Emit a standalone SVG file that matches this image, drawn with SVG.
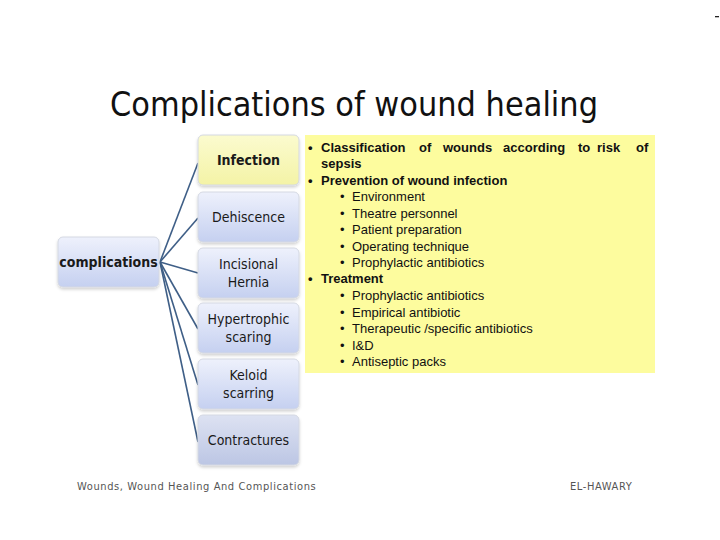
<svg xmlns="http://www.w3.org/2000/svg" width="720" height="540" viewBox="0 0 720 540">
<defs>
<linearGradient id="blue" x1="0" y1="0" x2="0" y2="1">
<stop offset="0" stop-color="#eef1fc"/>
<stop offset="1" stop-color="#c5d0f0"/>
</linearGradient>
<linearGradient id="blue2" x1="0" y1="0" x2="0" y2="1">
<stop offset="0" stop-color="#dde2f2"/>
<stop offset="1" stop-color="#bcc6e4"/>
</linearGradient>
<linearGradient id="yel" x1="0" y1="0" x2="0" y2="1">
<stop offset="0" stop-color="#fbfbcf"/>
<stop offset="1" stop-color="#f4f3a6"/>
</linearGradient>
<filter id="sh" x="-10%" y="-10%" width="130%" height="140%">
<feDropShadow dx="0" dy="2" stdDeviation="1.5" flood-color="#000" flood-opacity="0.18"/>
</filter>
</defs>
<style>
.node rect{stroke:#d4d8e2;stroke-width:1;filter:url(#sh)}
.nt{font-family:"DejaVu Sans Condensed","DejaVu Sans",sans-serif;font-size:14px;fill:#1a1a1a;text-anchor:middle}
.b{font-weight:bold}
.conn line{stroke:#3f5f87;stroke-width:1.6}
.bt{font-family:"Liberation Sans",Arial,sans-serif;font-size:13px;fill:#111}
.ft{font-family:"DejaVu Sans Condensed","DejaVu Sans",sans-serif;font-size:11px;fill:#555;letter-spacing:0.6px}
</style>
<rect width="720" height="540" fill="#fff"/>
<rect x="715" y="16" width="4" height="1.3" fill="#222"/>
<text x="354" y="116" font-family="'DejaVu Sans Condensed','DejaVu Sans',sans-serif" font-size="33" fill="#111" text-anchor="middle" textLength="488" lengthAdjust="spacingAndGlyphs">Complications of wound healing</text>

<g id="infobox">
<rect x="305" y="135" width="350" height="238" fill="#fdfc9e"/>
<g class="bt">
<text x="308" y="152" font-weight="bold">•</text>
<g font-weight="bold">
<text x="321" y="152">Classification</text>
<text x="419" y="152">of</text>
<text x="443" y="152">wounds</text>
<text x="503" y="152">according</text>
<text x="578" y="152">to</text>
<text x="597" y="152">risk</text>
<text x="636" y="152">of</text>
</g>
<text x="321" y="168" font-weight="bold">sepsis</text>
<text x="308" y="185" font-weight="bold">•</text>
<text x="321" y="185" font-weight="bold">Prevention of wound infection</text>
<text x="340" y="201">•</text><text x="352" y="201">Environment</text>
<text x="340" y="217.5">•</text><text x="352" y="217.5">Theatre personnel</text>
<text x="340" y="234">•</text><text x="352" y="234">Patient preparation</text>
<text x="340" y="250.5">•</text><text x="352" y="250.5">Operating technique</text>
<text x="340" y="267">•</text><text x="352" y="267">Prophylactic antibiotics</text>
<text x="308" y="283" font-weight="bold">•</text>
<text x="321" y="283" font-weight="bold">Treatment</text>
<text x="340" y="300">•</text><text x="352" y="300">Prophylactic antibiotics</text>
<text x="340" y="316.5">•</text><text x="352" y="316.5">Empirical antibiotic</text>
<text x="340" y="333">•</text><text x="352" y="333">Therapeutic /specific antibiotics</text>
<text x="340" y="349.5">•</text><text x="352" y="349.5">I&amp;D</text>
<text x="340" y="366">•</text><text x="352" y="366">Antiseptic packs</text>
</g>
</g>

<g id="connectors" class="conn">
<line x1="160" y1="262" x2="198" y2="163"/>
<line x1="160" y1="262" x2="198" y2="218"/>
<line x1="160" y1="262" x2="198" y2="273"/>
<line x1="160" y1="262" x2="198" y2="329"/>
<line x1="160" y1="262" x2="198" y2="385"/>
<line x1="160" y1="262" x2="198" y2="442"/>
</g>

<g id="n-complications" class="node">
<rect x="58" y="237" width="101" height="50" rx="5" fill="url(#blue)"/>
<text class="nt b" x="108.5" y="267">complications</text>
</g>
<g id="n-infection" class="node">
<rect x="198" y="135" width="101" height="50" rx="5" fill="url(#yel)"/>
<text class="nt b" x="248.5" y="165">Infection</text>
</g>
<g id="n-dehiscence" class="node">
<rect x="198" y="192" width="101" height="50" rx="5" fill="url(#blue)"/>
<text class="nt" x="248.5" y="222">Dehiscence</text>
</g>
<g id="n-hernia" class="node">
<rect x="198" y="248" width="101" height="50" rx="5" fill="url(#blue)"/>
<text class="nt" x="248.5" y="269">Incisional</text>
<text class="nt" x="248.5" y="287">Hernia</text>
</g>
<g id="n-hypertrophic" class="node">
<rect x="198" y="303" width="101" height="50" rx="5" fill="url(#blue)"/>
<text class="nt" x="248.5" y="324">Hypertrophic</text>
<text class="nt" x="248.5" y="342">scaring</text>
</g>
<g id="n-keloid" class="node">
<rect x="198" y="359" width="101" height="50" rx="5" fill="url(#blue)"/>
<text class="nt" x="248.5" y="380">Keloid</text>
<text class="nt" x="248.5" y="398">scarring</text>
</g>
<g id="n-contractures" class="node">
<rect x="198" y="415" width="101" height="50" rx="5" fill="url(#blue2)"/>
<text class="nt" x="248.5" y="445">Contractures</text>
</g>

<text class="ft" x="77" y="490">Wounds, Wound Healing And Complications</text>
<text class="ft" x="570" y="490" letter-spacing="1.2">EL-HAWARY</text>
</svg>
